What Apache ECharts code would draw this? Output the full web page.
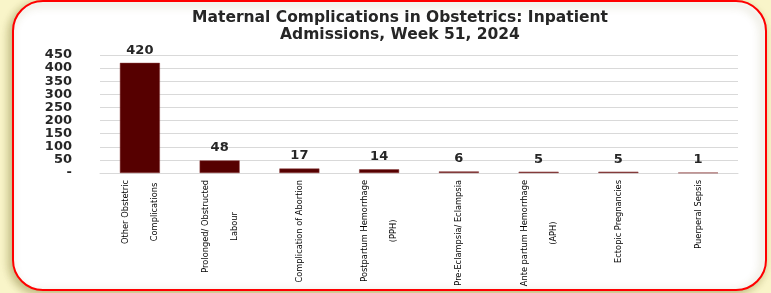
<!DOCTYPE html>
<html>
<head>
<meta charset="utf-8">
<style>
html,body{margin:0;padding:0;background:#f9f5c9;}
#chart{width:771px;height:293px;}
</style>
</head>
<body>
<div id="chart"></div>
<script src="https://cdn.jsdelivr.net/npm/echarts@6/dist/echarts.min.js"></script>
<script>
var categories = ['Other Obstetric\nComplications', 'Prolonged/ Obstructed\nLabour', 'Complication of Abortion',
	'Postpartum Hemorrhage\n(PPH)', 'Pre-Eclampsia/ Eclampsia', 'Ante partum Hemorrhage\n(APH)',
	'Ectopic Pregnancies', 'Puerperal Sepsis'];
var admissions = [420, 48, 17, 14, 6, 5, 5, 1];

var myChart = echarts.init(document.getElementById('chart'));

var option = {
	backgroundColor: 'transparent',
	graphic: [{
		type: 'rect',
		shape: {x: 13, y: 1, width: 753, height: 289, r: 30},
		style: {fill: '#fff', stroke: '#ff0000', lineWidth: 2,
			shadowBlur: 8, shadowColor: 'rgba(120,110,40,0.45)', shadowOffsetX: -3, shadowOffsetY: 3},
		z: -10
	}],
	title: {
		text: 'Maternal Complications in Obstetrics: Inpatient\nAdmissions, Week 51, 2024',
		left: 395,
		top: 4,
		textAlign: 'center',
		textStyle: {fontFamily: 'DejaVu Sans', fontWeight: 'bold', fontSize: 15.5, color: '#262626', lineHeight: 17}
	},
	grid: {left: 100, right: 33, top: 55, bottom: 120, outerBoundsMode: 'none', containLabel: false},
	xAxis: {
		type: 'category',
		data: categories,
		axisTick: {show: false},
		axisLine: {lineStyle: {color: '#d9d9d9'}},
		axisLabel: {
			rotate: 90,
			interval: 0,
			margin: 7,
			formatter: function (v) {
				return v.split('\n').map(function (s) { return '{c|' + s + '}'; }).join('\n');
			},
			rich: {
				c: {
					align: 'center',
					fontFamily: 'DejaVu Sans Condensed, Liberation Sans',
					fontSize: 9.2,
					lineHeight: 29,
					color: '#000'
				}
			}
		}
	},
	yAxis: {
		type: 'value',
		min: 0,
		max: 450,
		interval: 50,
		axisLabel: {
			fontFamily: 'DejaVu Sans',
			fontWeight: 'bold',
			fontSize: 13,
			lineHeight: 13,
			color: '#262626',
			margin: 28,
			showMinLabel: true,
			showMaxLabel: true,
			hideOverlap: false,
			formatter: function (v) { return v === 0 ? '-' : v; }
		},
		splitLine: {lineStyle: {color: '#d9d9d9'}}
	},
	series: [{
		type: 'bar',
		data: admissions,
		barWidth: 40,
		itemStyle: {color: '#560000', borderColor: '#8a3a3a', borderWidth: 0.5},
		label: {
			show: true,
			position: 'top',
			distance: 6,
			fontFamily: 'DejaVu Sans',
			fontWeight: 'bold',
			fontSize: 13,
			color: '#262626'
		}
	}]
};

myChart.setOption(option);
</script>
</body>
</html>
